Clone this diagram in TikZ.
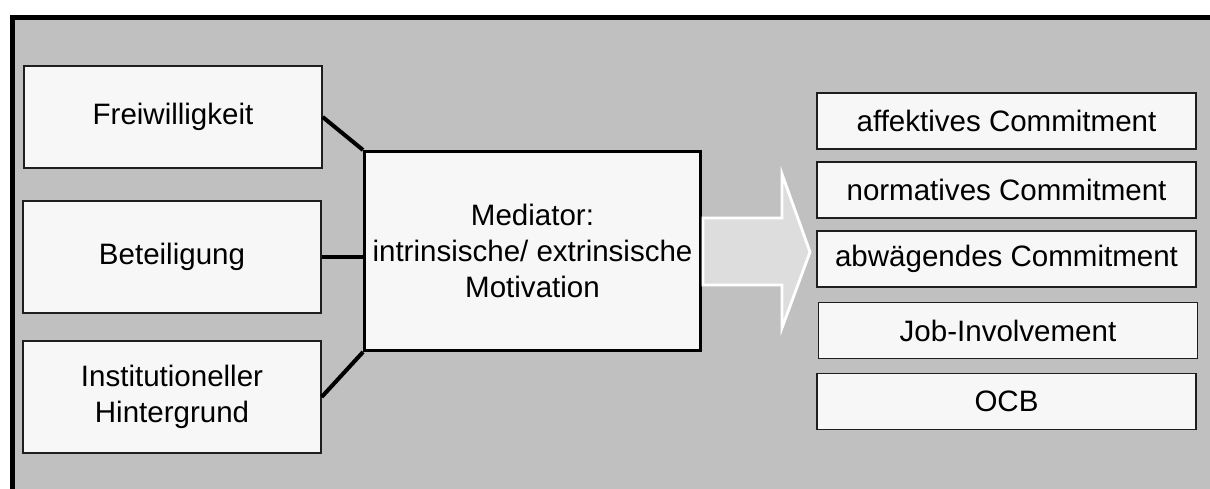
\documentclass[tikz,border=0pt]{standalone}
\usepackage{fontspec}
\setmainfont{Liberation Sans}
\usepackage{xcolor}
\usetikzlibrary{positioning}
\definecolor{frGray}  {RGB}{192,192,192}
\definecolor{boxFill} {RGB}{247,247,247}
\definecolor{boxLine} {RGB}{ 30, 30, 30}
\definecolor{arrFill} {RGB}{221,221,221}
\begin{document}
\begin{tikzpicture}[x=0.02cm,y=-0.02cm,
  every node/.style={font=\fontsize{16.8}{20.5}\selectfont,text=black},
  box/.style={draw=boxLine,line width=0.8pt,fill=boxFill,align=center,
              inner sep=0pt},
  inbox/.style ={box,minimum width=5.96cm},
  outbox/.style={box,minimum width=7.58cm,minimum height=1.12cm},
  medbox/.style={box,line width=1.7pt,draw=black,minimum width=6.72cm,
                 minimum height=3.98cm},
  link/.style={line width=2.3pt,black}
]
\useasboundingbox (0,0) rectangle (1210,488);
\clip (0,0) rectangle (1210,488);
% frame
\draw[line width=2.3pt,fill=frGray] (12.5,17.5) rectangle (1225,500);
% input factors
\node[inbox,minimum height=2.04cm] (frei) at (173,117)   {Freiwilligkeit};
\node[inbox,minimum height=2.24cm] (bet)  at (172,257)   {Beteiligung};
\node[inbox,minimum height=2.24cm] (inst) at (172,397)
   {Institutioneller\\Hintergrund};
% mediator
\node[medbox] (med) at (532.5,251)
   {Mediator:\\intrinsische/ extrinsische\\Motivation};
\draw[link] (frei.east) -- (med.north west);
\draw[link] (bet.east)  -- (bet.east -| med.west);
\draw[link] (inst.east) -- (med.south west);
% block arrow
\draw[white,line width=1.6pt,fill=arrFill,line join=miter]
  (703,218) -- (782,218) -- (782,174) -- (810,252) -- (782,328)
  -- (782,285) -- (703,285) -- cycle;
% outcomes
\node[outbox] (aff)  at (1006.5,121) {affektives Commitment};
\node[outbox] (norm) at (1006.5,190) {normatives Commitment};
\node[outbox] (abw)  at (1006.5,259) {abwägendes Commitment};
\node[outbox] (job)  at (1008,330.5) {Job-Involvement};
\node[outbox] (ocb)  at (1006.5,401.5) {OCB};
\end{tikzpicture}
\end{document}
